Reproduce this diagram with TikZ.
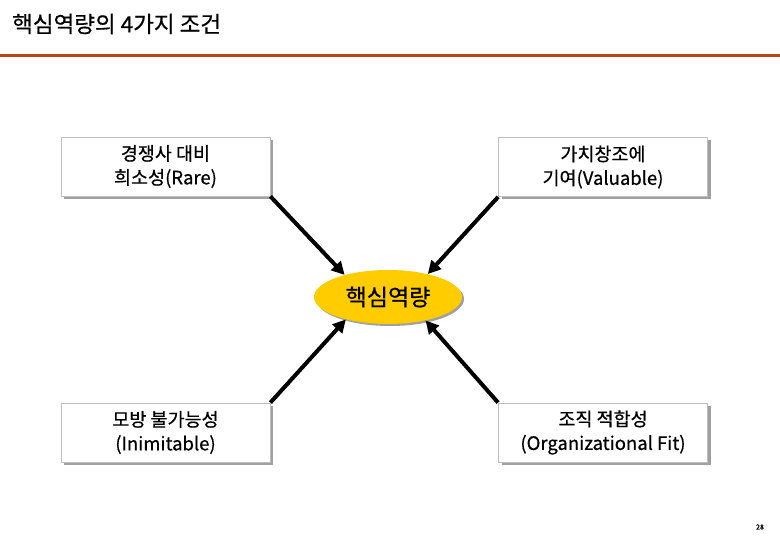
\documentclass[tikz,border=0pt]{standalone}
\usepackage{fontspec}
\setmainfont{Noto Sans CJK KR}[FakeBold=0.6]
\usepackage{tikz}
\usetikzlibrary{positioning,arrows.meta,shapes.geometric,shadows}
\usepackage{xcolor}
\definecolor{rulebrown}{RGB}{184,72,28}
\definecolor{coregold}{RGB}{255,204,0}
\definecolor{boxline}{RGB}{190,190,190}
\definecolor{shadowgray}{RGB}{160,160,160}
\tikzset{
  condbox/.style={rectangle,draw=boxline,fill=white,line width=0.8pt,
    align=center,font=\fontsize{18.5}{24}\selectfont,
    minimum width=209pt,minimum height=59pt,
    drop shadow={shadow xshift=3pt,shadow yshift=-3pt,fill=shadowgray,opacity=1}},
  coreball/.style={ellipse,fill=coregold,draw=none,
    minimum width=148pt,minimum height=54pt,font=\fontsize{23}{26}\selectfont,
    drop shadow={shadow xshift=2pt,shadow yshift=-2pt,fill=shadowgray,opacity=1}},
  bigarrow/.style={line width=4pt,-{Triangle[length=13pt,width=13pt]}}
}

\begin{document}
\begin{tikzpicture}[x=1pt,y=-1pt]
\useasboundingbox (0,0) rectangle (780,540);
% title and rule
\node[anchor=west,inner sep=0pt,font=\fontsize{22.5}{24}\selectfont] (title) at (12,24) {핵심역량의 4가지 조건};
\draw[rulebrown,line width=3pt] (0,56) coordinate (rulea) -- (780,56) coordinate (ruleb);

% four conditions
\node[condbox] (rare) at (165.5,166.5) {경쟁사 대비\\희소성(Rare)};
\node[condbox] (valuable) at (603,167) {가치창조에\\기여(Valuable)};
\node[condbox] (inimit) at (165.5,432.5) {모방 불가능성\\(Inimitable)};
\node[condbox] (orgfit) at (603,432.5) {조직 적합성\\(Organizational Fit)};

% core
\node[coreball] (core) at (388,297) {핵심역량};

\draw[bigarrow] (rare.south east) -- (core.153);
\draw[bigarrow] (valuable.south west) -- (core.30);
\draw[bigarrow] (inimit.north east) -- (core.208);
\draw[bigarrow] (orgfit.north west) -- (core.328);

\node[font=\fontsize{7}{8}\selectfont,inner sep=0pt] (pagenum) at (760,527) {28};
\end{tikzpicture}
\end{document}
